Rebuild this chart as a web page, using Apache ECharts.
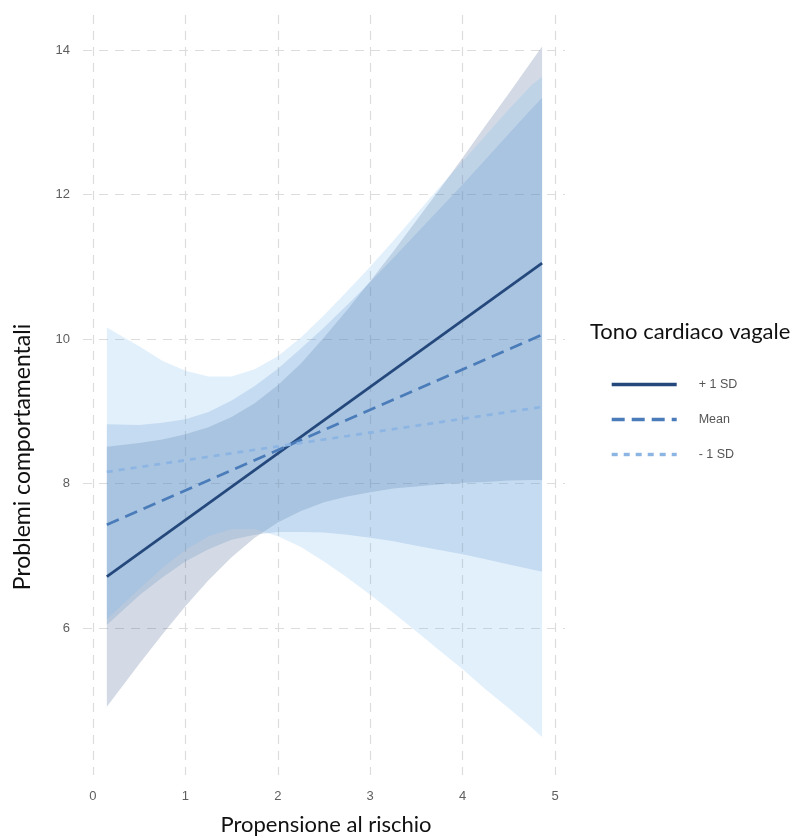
<!DOCTYPE html>
<html>
<head>
<meta charset="utf-8">
<script src="https://cdn.jsdelivr.net/npm/echarts@6/dist/echarts.min.js"></script>
<style>
html,body{margin:0;padding:0;background:#fff;}
#chart{width:795px;height:836px;}
</style>
</head>
<body>
<div id="chart"></div>
<script>
// ---- data ----
const xTicks = [0, 1, 2, 3, 4, 5];
const yTicks = [6, 8, 10, 12, 14];

const seriesNames = ['+ 1 SD', 'Mean', '- 1 SD'];

// regression lines (endpoints of the plotted range)
const lineX = [0.15, 4.86];
const plusSDLine = [6.71, 11.05];
const meanLine = [7.43, 10.06];
const minusSDLine = [8.16, 9.06];

// confidence bands
const bandX = [0.15, 0.5, 0.75, 1.0, 1.25, 1.5, 1.75, 2.0, 2.25, 2.5, 2.75, 3.0, 3.25, 3.5, 3.75, 4.0, 4.25, 4.5, 4.75, 4.86];
const plusSDLower = [4.91, 5.50, 5.91, 6.30, 6.66, 6.98, 7.25, 7.46, 7.62, 7.74, 7.82, 7.88, 7.93, 7.96, 7.99, 8.01, 8.02, 8.04, 8.05, 8.05];
const plusSDUpper = [8.51, 8.56, 8.61, 8.68, 8.78, 8.92, 9.11, 9.36, 9.66, 10.02, 10.40, 10.80, 11.21, 11.64, 12.07, 12.51, 12.96, 13.40, 13.85, 14.05];
const meanLower = [6.04, 6.45, 6.70, 6.92, 7.09, 7.22, 7.29, 7.33, 7.33, 7.32, 7.29, 7.25, 7.20, 7.14, 7.08, 7.02, 6.95, 6.88, 6.81, 6.78];
const meanUpper = [8.82, 8.81, 8.84, 8.89, 8.99, 9.15, 9.35, 9.59, 9.87, 10.16, 10.47, 10.79, 11.12, 11.46, 11.80, 12.14, 12.49, 12.84, 13.19, 13.34];
const minusSDLower = [6.12, 6.54, 6.83, 7.08, 7.27, 7.37, 7.37, 7.27, 7.12, 6.92, 6.70, 6.46, 6.21, 5.95, 5.69, 5.43, 5.15, 4.89, 4.62, 4.49];
const minusSDUpper = [10.16, 9.90, 9.70, 9.56, 9.48, 9.48, 9.58, 9.76, 10.02, 10.33, 10.66, 11.00, 11.36, 11.73, 12.10, 12.46, 12.82, 13.18, 13.52, 13.63];

// ---- styling ----
const colDark = '#24487c';
const colMid = '#4b7cba';
const colLight = '#8db5e3';
const fillDark = 'rgba(36,72,124,0.2)';
const fillMid = 'rgba(75,124,186,0.2)';
const fillLight = 'rgba(120,182,242,0.21)';

function band(lower, upper, color) {
  return {
    type: 'custom',
    silent: true,
    z: 1,
    clip: true,
    data: [[bandX[0], lower[0]]],
    renderItem: function (params, api) {
      const pts = [];
      for (let i = 0; i < bandX.length; i++) pts.push(api.coord([bandX[i], upper[i]]));
      for (let i = bandX.length - 1; i >= 0; i--) pts.push(api.coord([bandX[i], lower[i]]));
      return { type: 'polygon', shape: { points: pts }, style: { fill: color } };
    }
  };
}

function line(name, ys, color, type) {
  return {
    type: 'line',
    name: name,
    z: 3,
    symbol: 'none',
    showSymbol: false,
    silent: true,
    data: lineX.map((x, i) => [x, ys[i]]),
    lineStyle: { color: color, width: 2.7, type: type },
    itemStyle: { color: color }
  };
}

const gridStyle = { color: '#dcdcdc', width: 1.2, type: [9, 7] };
const labelStyle = { color: '#5e5e5e', fontFamily: 'Liberation Sans', fontSize: 13 };

const chart = echarts.init(document.getElementById('chart'), null, { renderer: 'canvas' });
chart.setOption({
  animation: false,
  backgroundColor: '#ffffff',
  grid: { left: 83, right: 230, top: 15, bottom: 61, containLabel: false },
  xAxis: {
    type: 'value',
    min: -0.108, max: 5.108,
    axisLine: { show: false },
    axisTick: { show: false, customValues: xTicks },
    axisLabel: Object.assign({ customValues: xTicks, margin: 15, formatter: v => String(v) }, labelStyle),
    splitLine: { show: true, lineStyle: gridStyle }
  },
  yAxis: {
    type: 'value',
    min: 3.965, max: 14.485,
    axisLine: { show: false },
    axisTick: { show: false, customValues: yTicks },
    axisLabel: Object.assign({ customValues: yTicks, margin: 13, formatter: v => String(v) }, labelStyle),
    splitLine: { show: true, lineStyle: gridStyle }
  },
  legend: {
    data: seriesNames,
    orient: 'vertical',
    left: 605, top: 373,
    itemWidth: 65, itemHeight: 14, itemGap: 22,
    selectedMode: false,
    itemStyle: { opacity: 0, borderWidth: 0 },
    lineStyle: { width: 3.4, opacity: 1 },
    textStyle: { color: '#555', fontFamily: 'Liberation Sans', fontSize: 12.5, padding: [0, 0, 0, 17] }
  },
  graphic: [
    { type: 'text', x: 326, y: 825, style: { text: 'Propensione al rischio', font: '22px Lato', fill: '#111', textAlign: 'center', textVerticalAlign: 'middle' } },
    { type: 'text', x: 23, y: 457, rotation: Math.PI / 2, style: { text: 'Problemi comportamentali', font: '23px Lato', fill: '#111', textAlign: 'center', textVerticalAlign: 'middle' } },
    { type: 'text', x: 590, y: 332, style: { text: 'Tono cardiaco vagale', font: '22px Lato', fill: '#111', textAlign: 'left', textVerticalAlign: 'middle' } }
  ],
  series: [
    band(plusSDLower, plusSDUpper, fillDark),
    band(meanLower, meanUpper, fillMid),
    band(minusSDLower, minusSDUpper, fillLight),
    line(seriesNames[0], plusSDLine, colDark, 'solid'),
    line(seriesNames[1], meanLine, colMid, [13, 7]),
    line(seriesNames[2], minusSDLine, colLight, [6, 6])
  ]
});
</script>
</body>
</html>
